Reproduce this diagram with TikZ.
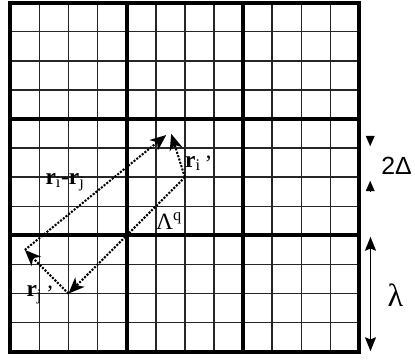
\documentclass[tikz,border=0pt]{standalone}
\usepackage{fontspec}
\setmainfont{Liberation Serif}
\newfontfamily\labelsans{Liberation Sans}
\usetikzlibrary{arrows.meta}

\begin{document}
\begin{tikzpicture}[
    scale=0.7,
    fineline/.style={draw=black!85, line width=1pt},
    boldline/.style={draw=black, line width=2.8pt},
    vec/.style={densely dotted, line width=1.4pt, -{Stealth[length=11pt, width=9pt, inset=3pt]}},
    tipmark/.style={line width=0.1pt, -{Triangle[length=6.9pt, width=6pt]}},
    span/.style={line width=1pt, {Stealth[length=9.5pt, width=7.5pt, inset=1.5pt]}-{Stealth[length=9.5pt, width=7.5pt, inset=1.5pt]}},
    lbl/.style={anchor=base west, inner sep=0pt, font=\fontsize{16}{18}\selectfont}
]
\useasboundingbox (-0.354,-0.25) rectangle (13.91,12.09);
% lattice
\draw [fineline] (0,0) grid (12,12);
\draw [boldline, step=4] (0,0) grid (12,12);
\draw [boldline] (0,0) rectangle (12,12);
% particle positions
\coordinate (oi) at (6,6);
\coordinate (oj) at (2,2);
\coordinate (pj) at (0.5,3.5);
\coordinate (pi) at (5.36,7.45);
\coordinate (piq) at (5.53,7.49);
\draw [vec] (oi) -- (oj);
\draw [vec] (oi) -- (piq);
\draw [vec] (oj) -- (pj);
\draw [vec] (pj) -- (pi);
\node [lbl] (rij) at (1.2,5.76) {\textbf{r}\textsubscript{i}-\textbf{r}\textsubscript{j}};
\node [lbl] (ri) at (6.0,6.35) {\textbf{r}\textsubscript{i}\,\raisebox{-0.2em}{’}};
\node [lbl] (lq) at (5.0,4.2) {Λ\textsuperscript{q}};
\node [lbl] (rj) at (0.55,1.89) {\textbf{r}\textsubscript{j}\,\raisebox{-0.2em}{’}};
% widths on the right
\coordinate (dtop) at (12.37,7.42);
\coordinate (dtopend) at (12.37,7.07);
\coordinate (dbot) at (12.37,5.52);
\coordinate (dbotend) at (12.37,5.87);
\draw [tipmark] (dtop) -- (dtopend);
\draw [tipmark] (dbot) -- (dbotend);
\node [anchor=base west, inner sep=0pt, font=\labelsans\fontsize{17}{19}\selectfont] (delta) at (12.74,6.1) {2Δ};
\coordinate (ltop) at (12.38,3.95);
\coordinate (lbot) at (12.38,0.02);
\draw [span] (ltop) -- (lbot);
\node [inner sep=0pt, font=\fontsize{22}{24}\selectfont] (lam) at (13.24,1.96) {λ};
\end{tikzpicture}
\end{document}
